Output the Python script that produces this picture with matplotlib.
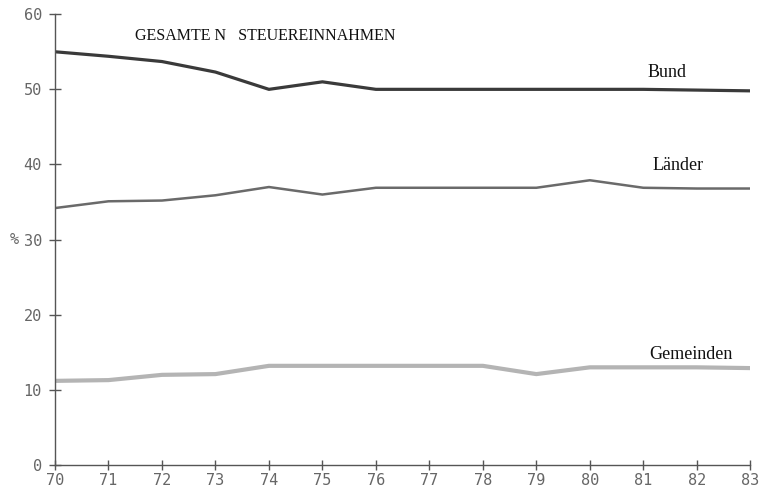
import matplotlib.pyplot as plt

# Anteil an den gesamten Steuereinnahmen (%), Jahre 1970-1983
jahre = list(range(70, 84))
bund = [55, 54.4, 53.7, 52.3, 50, 51, 50, 50, 50, 50, 50, 50, 49.9, 49.8]
laender = [34.2, 35.1, 35.2, 35.9, 37, 36, 36.9, 36.9, 36.9, 36.9, 37.9, 36.9, 36.8, 36.8]
gemeinden = [11.2, 11.3, 12, 12.1, 13.2, 13.2, 13.2, 13.2, 13.2, 12.1, 13, 13, 13, 12.9]

y_ticks = [0, 10, 20, 30, 40, 50, 60]

fig = plt.figure(figsize=(7.64, 4.9), dpi=100)
ax = fig.add_axes([0.072, 0.051, 0.910, 0.920])

ax.plot(jahre, bund, color='#3a3a3a', lw=2.3, solid_capstyle='butt')
ax.plot(jahre, laender, color='#6a6a6a', lw=1.8)
ax.plot(jahre, gemeinden, color='#b4b4b4', lw=3.0)

ax.set_xlim(70, 83)
ax.set_ylim(0, 60)
ax.set_xticks(jahre)
ax.set_yticks(y_ticks)

for s in ['top', 'right']:
    ax.spines[s].set_visible(False)
for s in ['left', 'bottom']:
    ax.spines[s].set_color('#555555')
    ax.spines[s].set_linewidth(1.0)

ax.tick_params(axis='y', direction='inout', length=9, width=1, color='#555555',
               labelsize=11, labelcolor='#666666', pad=5)
ax.tick_params(axis='x', direction='inout', length=7, width=1, color='#555555',
               labelsize=11, labelcolor='#666666', pad=2)
for lab in ax.get_xticklabels() + ax.get_yticklabels():
    lab.set_family('DejaVu Sans Mono')

ax.text(-0.065, 0.5, '%', transform=ax.transAxes, ha='left', va='center',
        fontsize=11, color='#666666', family='DejaVu Sans Mono')

serif = 'Liberation Serif'
ax.text(71.5, 57.1, 'GESAMTE N   STEUEREINNAHMEN', fontsize=11.5, family=serif,
        ha='left', va='center', color='#111111')
ax.text(81.45, 52.3, 'Bund', fontsize=13, family=serif, ha='center', va='center', color='#111111')
ax.text(81.65, 39.8, 'Länder', fontsize=13, family=serif, ha='center', va='center', color='#111111')
ax.text(81.9, 14.7, 'Gemeinden', fontsize=13, family=serif, ha='center', va='center', color='#111111')

fig.savefig('out.png', dpi=100)
